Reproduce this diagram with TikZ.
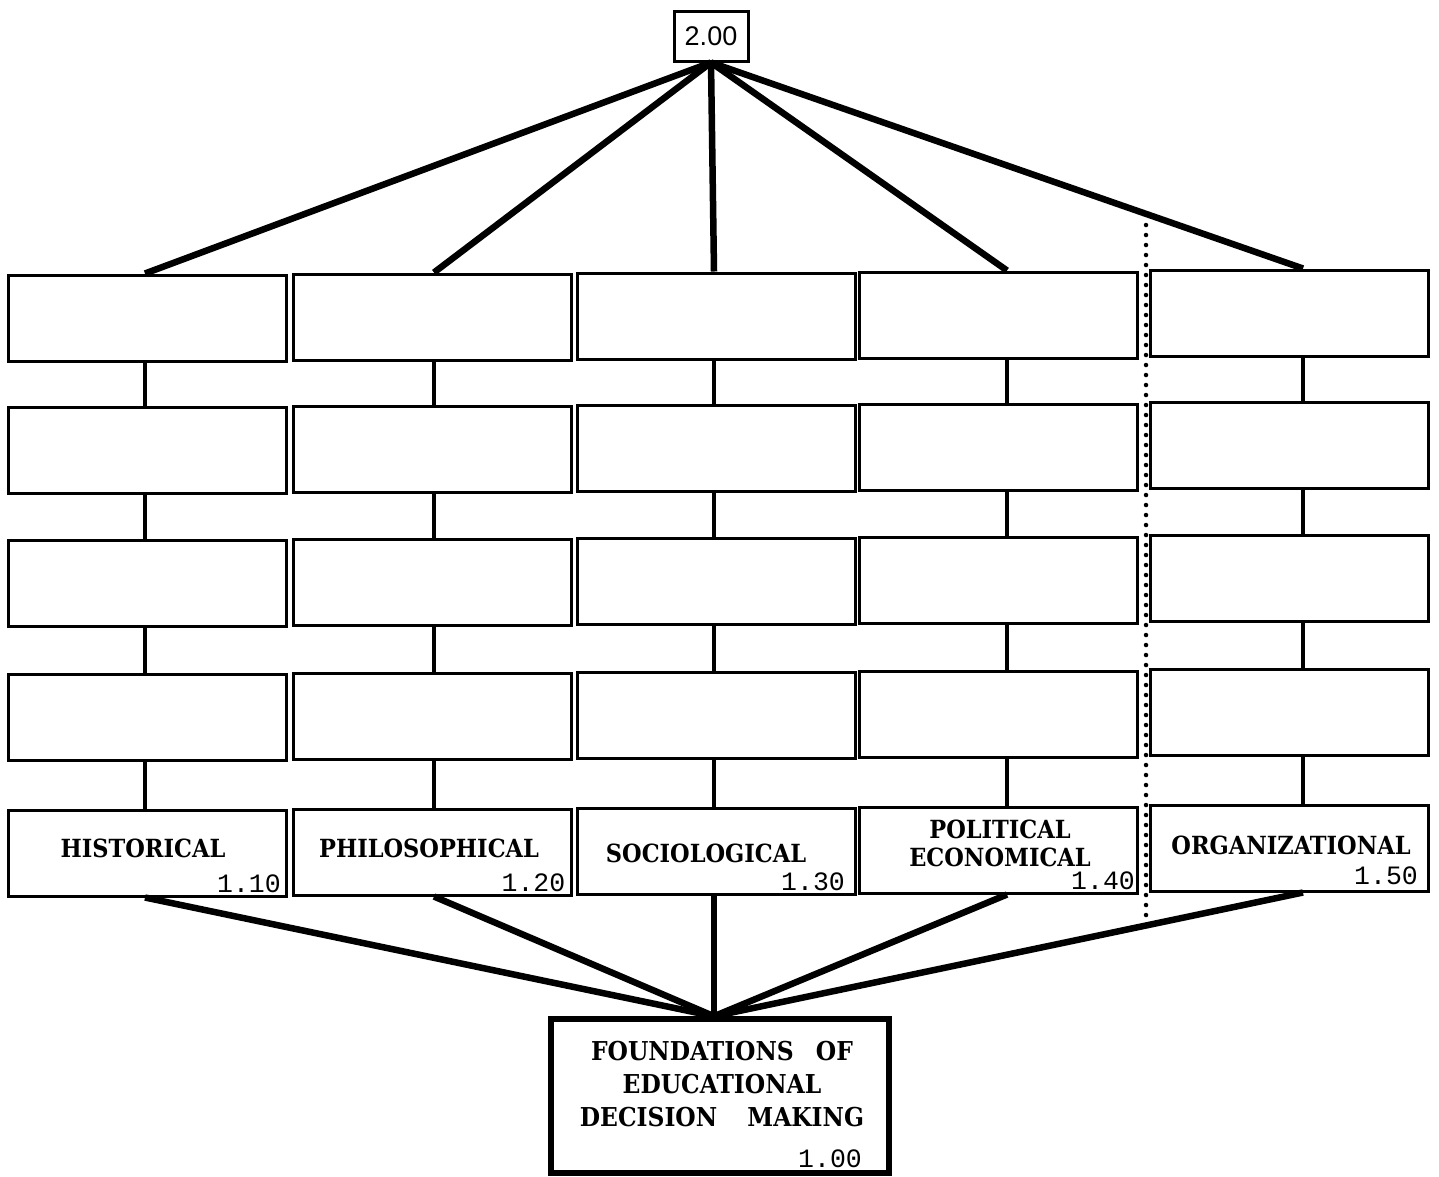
\documentclass[tikz,border=0pt]{standalone}
\usepackage{fontspec}
\newfontfamily\monofont{Liberation Mono}
\newfontfamily\sansfont{Liberation Sans}
\newfontfamily\labfont{DejaVu Serif Condensed}
\usetikzlibrary{calc}
\begin{document}
\begin{tikzpicture}[x=1pt,y=-1pt,
  cell/.style={draw,line width=3pt,minimum width=278pt,minimum height=86pt,inner sep=0pt},
  link/.style={line width=4pt},
  spoke/.style={line width=6.5pt},
  lab/.style={font=\labfont\bfseries\fontsize{25}{28}\selectfont,align=center,inner sep=0pt},
  num/.style={font=\fontsize{26.5}{28}\selectfont\monofont,inner sep=0pt,anchor=south east},
  dots/.style={line width=4.5pt,line cap=round,dash pattern=on 0pt off 10pt}
]
\useasboundingbox[fill=white] (0,0) rectangle (1439,1176);

% connector x positions per column
\coordinate (k1) at (145,0);
\coordinate (k2) at (434,0);
\coordinate (k3) at (714,0);
\coordinate (k4) at (1007,0);
\coordinate (k5) at (1303,0);

% grid of boxes
\foreach \c/\x/\d in {1/147.5/1,2/432/0,3/716.5/-1,4/998.5/-2,5/1289.5/-4}{
  \foreach \r/\y in {1/317,2/449,3/582.5,4/716.5,5/852}{
    \node[cell] (b\c\r) at (\x,\y+\d) {};
  }
}

% vertical links
\foreach \c in {1,...,5}{
  \foreach \r/\n in {1/2,2/3,3/4,4/5}{
    \draw[link] (b\c\r.south -| k\c) -- (b\c\n.north -| k\c);
  }
}

% top node
\node[draw,line width=3pt,minimum width=74pt,minimum height=50pt,inner sep=0pt,
      font=\sansfont\fontsize{27}{29}\selectfont] (top) at (711,36) {2.00};

\foreach \c in {1,...,5}{
  \draw[spoke] (top.south) -- (b\c1.north -| k\c);
}

% bottom node
\node[draw,line width=5.5pt,minimum width=338pt,minimum height=154pt,inner sep=0pt] (found) at (720,1096) {};
\coordinate (fn) at (found.north -| k3);
\foreach \c in {1,...,5}{
  \draw[spoke] (b\c5.south -| k\c) -- (fn);
}

\node[font=\labfont\bfseries\fontsize{26}{33}\selectfont,align=center,inner sep=0pt] (ftext) at (722,1084)
  {FOUNDATIONS\hspace{14pt} OF\\EDUCATIONAL\\DECISION\hspace{22pt} MAKING};
\node[num] (fnum) at (862,1168) {1.00};

% dotted separator
\coordinate (dt) at (1146,225);
\coordinate (db) at (1146,922);
\draw[dots] (dt) -- (db);

% labels
\node[lab] (l1) at (143,848) {HISTORICAL};
\node[lab] (l2) at (429,848) {PHILOSOPHICAL};
\node[lab] (l3) at (706,853) {SOCIOLOGICAL};
\node[lab] (l4) at (1000,843) {POLITICAL\\ECONOMICAL};
\node[lab] (l5) at (1291,845) {ORGANIZATIONAL};

\node[num] (n1) at ($(b15.south east)+(-7,-5)$) {1.10};
\node[num] (n2) at ($(b25.south east)+(-7,-5)$) {1.20};
\node[num] (n3) at ($(b35.south east)+(-12,-5)$) {1.30};
\node[num] (n4) at ($(b45.south east)+(-4,-5)$) {1.40};
\node[num] (n5) at ($(b55.south east)+(-12,-8)$) {1.50};
\end{tikzpicture}
\end{document}
